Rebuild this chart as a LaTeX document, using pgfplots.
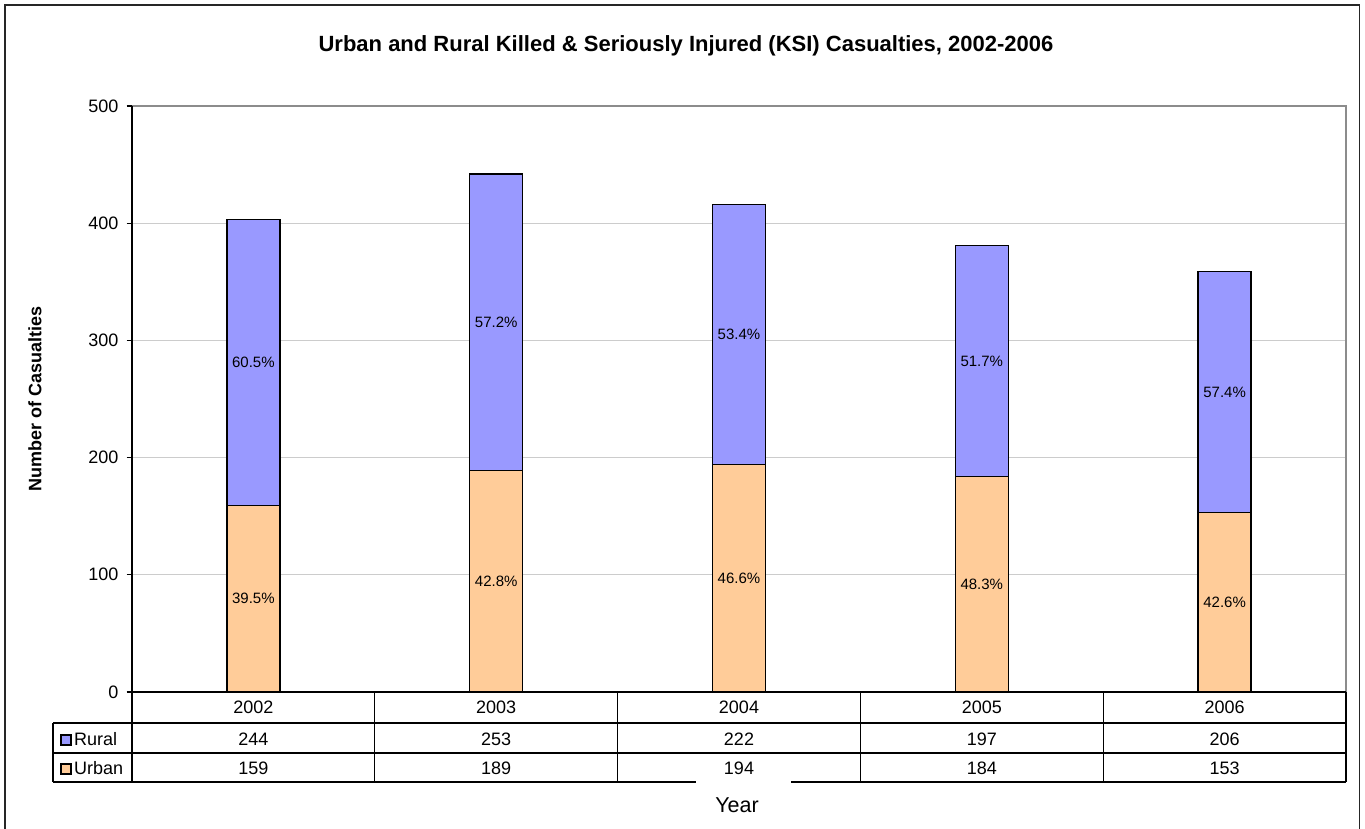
\documentclass[border=0pt]{standalone}
\usepackage{pgfplots}
\usepackage{pgfplotstable}
\pgfplotsset{compat=1.18}
\usepackage{fontspec}
\setmainfont{Liberation Sans}

\definecolor{rural}{HTML}{9999FF}
\definecolor{urban}{HTML}{FFCC99}
\definecolor{gridgray}{HTML}{CCCCCC}
\definecolor{framegray}{HTML}{8C8C8C}

% KSI casualties by year
\pgfplotstableread{
x year urban rural
0 2002 159 244
1 2003 189 253
2 2004 194 222
3 2005 184 197
4 2006 153 206
}\ksi

\begin{document}
\begin{tikzpicture}[x=1pt,y=1pt]
\useasboundingbox (0,0) rectangle (1365,828);

% chart frame, open at the bottom
\draw[line width=1.6pt, black!85] (5,-2) -- (5,823) -- (1359.5,823) -- (1359.5,-2);

\pgfplotsset{ksiaxis/.style={
  at={(132pt,136pt)}, anchor=south west,
  scale only axis, width=1214pt, height=586pt,
  xmin=-0.5, xmax=4.5, ymin=0, ymax=500,
  clip=false,
  /pgf/number format/assume math mode=true,
  /pgf/number format/1000 sep={},
}}

% stacked bars
\begin{axis}[ksiaxis,
  ybar stacked, bar width=53pt,
  axis line style={draw=none},
  ytick={0,100,...,500}, ytick pos=left,
  ymajorgrids, grid style={gridgray, line width=1.1pt},
  tick align=outside, major tick length=5.5pt,
  ytick style={black, line width=1.1pt},
  xtick={0,...,4}, xticklabels from table={\ksi}{year},
  xtick style={draw=none},
  tick label style={font=\fontsize{18}{21}\selectfont},
  yticklabel style={inner sep=0pt, xshift=-8pt},
  xticklabel style={anchor=center, yshift=-9.5pt, inner sep=0pt},
]
\addplot[fill=urban, draw=black, line width=1.4pt] table[x=x, y=urban]{\ksi};
\addplot[fill=rural, draw=black, line width=1.4pt] table[x=x, y=rural]{\ksi};
\end{axis}

% share labels inside the bars and the values of the data table
\begin{axis}[ksiaxis, hide axis,
  every node near coord/.append style={anchor=center, text=black, inner sep=0pt},
]
\addplot[draw=none, mark=none,
  point meta={100*\thisrow{urban}/(\thisrow{urban}+\thisrow{rural})},
  nodes near coords={\pgfmathprintnumber[fixed,fixed zerofill,precision=1]{\pgfplotspointmeta}\%},
  every node near coord/.append style={font=\fontsize{15}{18}\selectfont}]
  table[x=x, y expr={\thisrow{urban}/2}]{\ksi};
\addplot[draw=none, mark=none,
  point meta={100*\thisrow{rural}/(\thisrow{urban}+\thisrow{rural})},
  nodes near coords={\pgfmathprintnumber[fixed,fixed zerofill,precision=1]{\pgfplotspointmeta}\%},
  every node near coord/.append style={font=\fontsize{15}{18}\selectfont}]
  table[x=x, y expr={\thisrow{urban}+\thisrow{rural}/2}]{\ksi};
\addplot[draw=none, mark=none,
  point meta=\thisrow{rural},
  nodes near coords={\pgfmathprintnumber[int detect]{\pgfplotspointmeta}},
  every node near coord/.append style={font=\fontsize{18}{21}\selectfont}]
  table[x=x, y expr=-40.5]{\ksi};
\addplot[draw=none, mark=none,
  point meta=\thisrow{urban},
  nodes near coords={\pgfmathprintnumber[int detect]{\pgfplotspointmeta}},
  every node near coord/.append style={font=\fontsize{18}{21}\selectfont}]
  table[x=x, y expr=-65.3]{\ksi};
\end{axis}

% plot area border
\draw[framegray, line width=1.5pt] (132,722) -- (1346,722) -- (1346,136);
\draw[black, line width=1.3pt] (132,136) -- (132,722);

% data table grid
\begin{scope}[black, line width=1.3pt]
  \draw (132,136) -- (1346,136);
  \draw (53,105) -- (1346,105);
  \draw (53,75) -- (1346,75);
  \draw (53,46) -- (696,46);
  \draw (791,46) -- (1346,46);
  \draw (53,105) -- (53,46);
  \foreach \k in {0,...,5} {
    \draw ({132+242.8*\k},136) -- ({132+242.8*\k},46);
  }
\end{scope}

% legend keys in the table's first column
\draw[black, line width=1.2pt, fill=rural] (61,83) rectangle (71,93);
\node[anchor=west, inner sep=0pt, font=\fontsize{18}{21}\selectfont] at (74,89) {Rural};
\draw[black, line width=1.2pt, fill=urban] (61,54) rectangle (71,64);
\node[anchor=west, inner sep=0pt, font=\fontsize{18}{21}\selectfont] at (74,59.5) {Urban};

% titles
\node[font=\bfseries\fontsize{22}{26}\selectfont] at (686,782)
  {Urban and Rural Killed \& Seriously Injured (KSI) Casualties, 2002-2006};
\node[rotate=90, font=\bfseries\fontsize{18}{21}\selectfont] at (35,429) {Number of Casualties};
\node[font=\fontsize{21.5}{25}\selectfont] at (737,23) {Year};
\end{tikzpicture}
\end{document}
